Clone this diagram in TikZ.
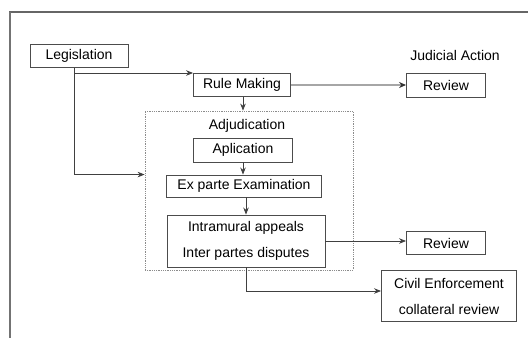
\documentclass[tikz,border=0pt]{standalone}
\usepackage{fontspec}
\setmainfont{Liberation Sans}
\usetikzlibrary{calc,arrows.meta}

\tikzset{
  box/.style={draw=black!70,line width=0.9pt,inner sep=0pt,align=center,font=\fontsize{14}{26}\selectfont},
  adjbox/.style={draw=black!45,densely dotted,line width=0.8pt,inner sep=0pt},
  line/.style={draw=black!75,line width=0.8pt},
  arr/.style={-{Stealth[length=7pt,width=5.5pt]},line width=0.8pt,draw=black!75},
  lab/.style={font=\fontsize{14}{16}\selectfont,inner sep=0pt}
}

\begin{document}
\begin{tikzpicture}[x=1pt,y=-1pt]
  \useasboundingbox (0,0) rectangle (528,338);
  % frame
  \draw[black!60,line width=1.8pt] (9,12) -- (528,12);
  \draw[black!55,line width=1.1pt] (10,12) -- (10,338);

  \node[box,minimum width=98,minimum height=23] (leg) at (79,56) {Legislation};
  \node[box,minimum width=97,minimum height=23] (rule) at (242,85) {Rule Making};
  \node[lab] (jud) at (455,55) {Judicial Action};
  \node[box,minimum width=79,minimum height=24] (rev1) at (446,85) {Review};

  \node[adjbox,minimum width=208,minimum height=159] (adj) at (249,190.5) {};
  \node[lab] (adjlab) at (247,126) {Adjudication};
  \node[box,minimum width=99,minimum height=24] (app) at (243,150) {Aplication};
  \node[box,minimum width=155,minimum height=22] (exp) at (244,186) {Ex parte Examination};
  \node[box,minimum width=158,minimum height=52] (intra) at (246,241) {Intramural appeals\\Inter partes disputes};
  \node[box,minimum width=79,minimum height=23] (rev2) at (446,243) {Review};
  \node[box,minimum width=135,minimum height=51] (civil) at (449,296) {Civil Enforcement\\collateral review};

  % connectors
  \coordinate (fork) at (74,73);
  \draw[line] (fork |- leg.south) -- (fork);
  \draw[arr] (fork) -- (fork -| rule.west);
  \draw[arr] (fork) |- (adj.west |- exp.north);
  \draw[draw=black!35,line width=1.6pt,-{Stealth[length=7pt,width=6pt,color=black!80]}] (rule.east) -- (rev1.west);
  \draw[arr] (rule.south -| app.north) -- (adj.north -| app.north);
  \draw[arr] (app.south) -- (app.south |- exp.north);
  \draw[arr] (exp.south -| intra.north) -- (intra.north);
  \draw[arr] (intra.east) -- (intra.east -| rev2.west);
  \draw[arr] (intra.south) |- ([yshift=5pt]civil.west);
\end{tikzpicture}
\end{document}
